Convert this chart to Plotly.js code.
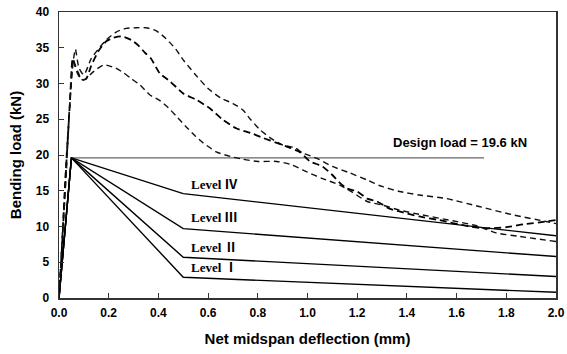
<!DOCTYPE html>
<html>
<head>
<meta charset="utf-8">
<script src="https://cdn.plot.ly/plotly-3.0.1.min.js"></script>
<style>html,body{margin:0;padding:0;background:#fff}#chart{width:567px;height:354px}</style>
</head>
<body>
<div id="chart"></div>
<script>
// Test curves (dashed)
const testA_x = [0,0.015,0.03,0.045,0.057,0.066,0.08,0.1,0.13,0.16,0.19,0.23,0.27,0.31,0.35,0.39,0.43,0.47,0.5,0.55,0.6,0.65,0.7,0.74,0.77,0.81,0.85,0.9,0.95,0.98,1.04,1.1,1.17,1.24,1.3,1.37,1.45,1.56,1.69,1.83,1.96,2.0];
const testA_y = [0,10,20,28,33,34.8,32.2,31.2,33.5,34.9,36.1,37.2,37.7,37.8,37.8,37.4,36.3,34.8,33.3,31.2,29.3,28.0,27.2,26.3,25.0,23.5,22.4,21.4,21.0,20.3,19.5,18.4,17.5,16.5,15.6,14.9,14.4,13.9,12.8,11.6,10.7,10.4];

const testB_x = [0,0.015,0.03,0.045,0.055,0.065,0.078,0.095,0.11,0.13,0.16,0.19,0.22,0.25,0.29,0.32,0.346,0.37,0.406,0.447,0.5,0.554,0.608,0.66,0.715,0.77,0.82,0.876,0.93,0.97,1.01,1.06,1.1,1.13,1.16,1.2,1.24,1.28,1.33,1.37,1.45,1.53,1.65,1.72,1.8,1.87,1.96,2.0];
const testB_y = [0,9,19,28,33.5,32.5,31.2,30.5,30.7,32.5,34.6,35.9,36.4,36.6,36.1,35.3,34.3,33.5,31.4,30.3,28.6,27.7,26.5,24.9,23.7,23.1,22.4,21.7,21.0,20.4,19.1,18.4,17.2,16.1,15.3,14.9,13.9,13.5,12.5,12.1,11.4,10.9,10.0,9.75,9.9,10.3,10.7,10.9];

const testC_x = [0,0.015,0.03,0.042,0.05,0.056,0.065,0.078,0.09,0.1,0.11,0.14,0.18,0.225,0.26,0.29,0.326,0.366,0.406,0.44,0.47,0.51,0.55,0.58,0.635,0.69,0.74,0.8,0.876,0.93,1.0,1.06,1.13,1.18,1.24,1.3,1.37,1.45,1.585,1.68,1.76,1.855,2.0];
const testC_y = [0,9,18,26,31,33.3,32.5,31.5,30.6,30.5,30.7,31.7,32.6,32.2,31.5,30.7,29.8,28.4,27.6,26.6,25.5,24.0,22.6,21.7,20.4,19.8,19.4,19.1,19.1,18.7,17.6,16.7,15.8,14.8,13.5,13.0,12.3,11.7,10.8,10.1,9.1,8.6,7.9];

// Design levels (solid)
const levelX = [0, 0.05, 0.5, 2.0];
const levelI_y = [0, 19.6, 2.9, 0.8];
const levelII_y = [0, 19.6, 5.7, 3.0];
const levelIII_y = [0, 19.6, 9.7, 5.8];
const levelIV_y = [0, 19.6, 14.6, 8.7];

// Design load line
const designX = [0.05, 1.71];
const designLoad = 19.6;

const levelNames = ['Level Ⅰ', 'Level Ⅱ', 'Level Ⅲ', 'Level Ⅳ'];
const xTicks = [0,0.2,0.4,0.6,0.8,1.0,1.2,1.4,1.6,1.8,2.0];
const xTickText = ['0.0','0.2','0.4','0.6','0.8','1.0','1.2','1.4','1.6','1.8','2.0'];
const yTicks = [0,5,10,15,20,25,30,35,40];

const solid = {color:'#000', width:1.4};
const traces = [
  {x: designX, y: [designLoad, designLoad], mode:'lines', line:{color:'#666', width:1.2}},
  {x: levelX, y: levelI_y, mode:'lines', line:solid},
  {x: levelX, y: levelII_y, mode:'lines', line:solid},
  {x: levelX, y: levelIII_y, mode:'lines', line:solid},
  {x: levelX, y: levelIV_y, mode:'lines', line:solid},
  {x: testA_x, y: testA_y, mode:'lines', line:{color:'#111', width:1.4, dash:'6px,4px', shape:'spline', smoothing:0.6}},
  {x: testB_x, y: testB_y, mode:'lines', line:{color:'#000', width:1.8, dash:'7px,4px', shape:'spline', smoothing:0.6}},
  {x: testC_x, y: testC_y, mode:'lines', line:{color:'#111', width:1.4, dash:'6px,4px', shape:'spline', smoothing:0.6}}
];

const serif = {family:'Liberation Serif, Noto Sans CJK JP, serif', size:13, color:'#000', weight:'bold'};
const levelLabelY = [4.2, 7.1, 11.3, 15.9];
const annotations = levelNames.map((t,i)=>({
  x:0.523, y:levelLabelY[i], xref:'x', yref:'y', text:'<b>'+t+'</b>', showarrow:false,
  xanchor:'left', yanchor:'middle', font:serif
}));
annotations.push({x:1.614, y:21.8, xref:'x', yref:'y', text:'<b>Design load = 19.6 kN</b>', showarrow:false,
  xanchor:'center', yanchor:'middle', font:{family:'Liberation Sans, Arial, sans-serif', size:13, color:'#000'}});

const axisCommon = {
  showgrid:false, zeroline:false, showline:true, linecolor:'#333', linewidth:1.5, mirror:true,
  ticks:'inside', ticklen:5, tickwidth:1, tickcolor:'#333',
  tickfont:{family:'Liberation Sans, Arial, sans-serif', size:12, color:'#000', weight:'bold'}
};

const layout = {
  width:567, height:354,
  margin:{l:59, r:11, t:12, b:56},
  paper_bgcolor:'#fff', plot_bgcolor:'#fff',
  showlegend:false,
  xaxis: Object.assign({}, axisCommon, {
    range:[0,2.0], tickvals:xTicks, ticktext:xTickText, ticklabelstandoff:3,
    title:{text:'<b>Net midspan deflection (mm)</b>', font:{family:'Liberation Sans, Arial, sans-serif', size:15, color:'#000'}, standoff:14}
  }),
  yaxis: Object.assign({}, axisCommon, {
    range:[0,40], tickvals:yTicks, ticklabelstandoff:6,
    title:{text:'<b>Bending load (kN)</b>', font:{family:'Liberation Sans, Arial, sans-serif', size:15, color:'#000'}, standoff:10}
  }),
  annotations: annotations
};

Plotly.newPlot('chart', traces, layout, {displayModeBar:false, staticPlot:true});
</script>
</body>
</html>
